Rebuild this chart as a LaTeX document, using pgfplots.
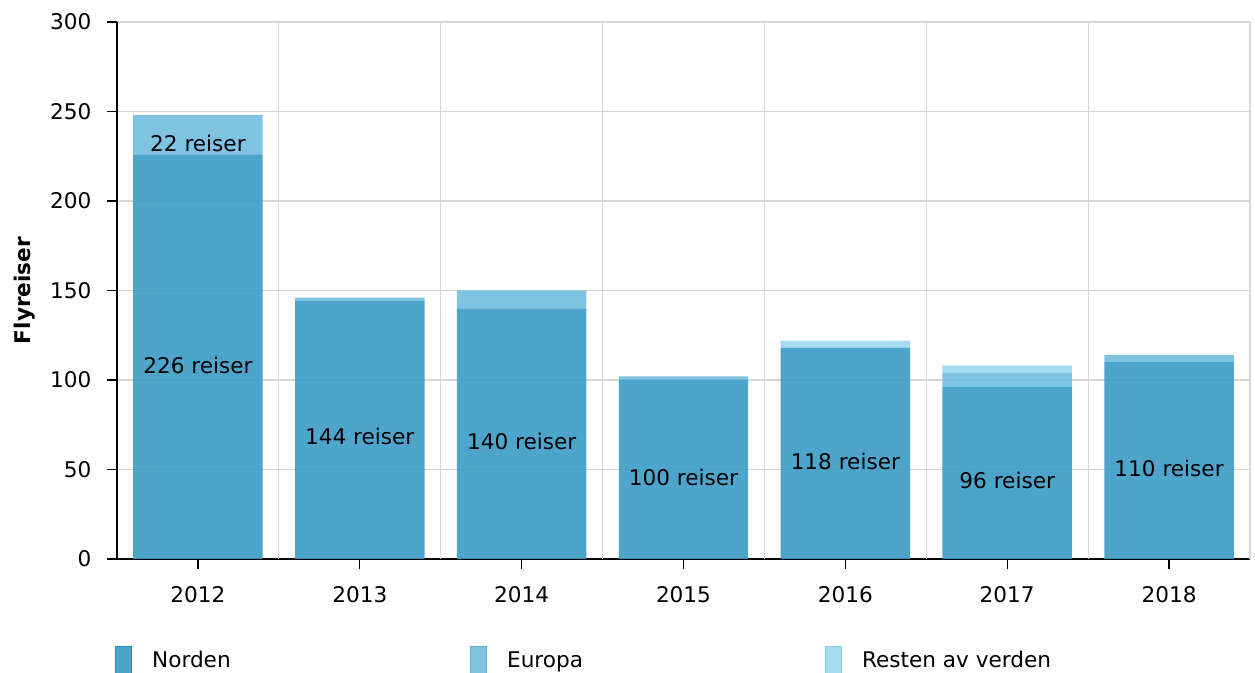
\documentclass[border=0pt]{standalone}
\usepackage{pgfplots}
\pgfplotsset{compat=1.18}
\usepackage{fontspec}
\setmainfont{DejaVu Sans}
\definecolor{norden}{RGB}{59,155,198}
\definecolor{europa}{RGB}{113,188,224}
\definecolor{resten}{RGB}{156,215,241}
\definecolor{nordenedge}{RGB}{40,135,185}
\definecolor{europaedge}{RGB}{95,175,215}
\definecolor{restenedge}{RGB}{135,205,235}
\definecolor{gridc}{RGB}{215,215,215}
\begin{document}
\fontsize{10.8}{13}\selectfont
\begin{tikzpicture}
\path[use as bounding box] (0,0) rectangle (627.5pt,336.5pt);
\begin{axis}[
  at={(58.5pt,57pt)}, anchor=south west,
  scale only axis, width=566.5pt, height=268.5pt,
  xmin=-0.5, xmax=6.5, ymin=0, ymax=300,
  ybar stacked, bar width=0.8,
  axis lines=left, axis line style={-, black, line width=0.8pt},
  xtick={0,1,2,3,4,5,6},
  xticklabels={2012,2013,2014,2015,2016,2017,2018},
  ytick={0,50,100,150,200,250,300},
  ymajorgrids, grid style={gridc, line width=0.6pt},
  extra x ticks={0.5,1.5,2.5,3.5,4.5,5.5,6.5},
  extra x tick labels={},
  extra x tick style={xmajorgrids=true, major tick length=0pt},
  tick align=outside, major tick length=5pt,
  tick style={black, line width=0.6pt},
  xticklabel style={yshift=-5pt},
  yticklabel style={xshift=-4pt},
  ylabel={\textbf{Flyreiser}},
  ylabel style={at={(axis description cs:-0.0812,0.5)}, anchor=center},
  /pgf/number format/assume math mode=true,
  tick label style={font=\fontsize{10.8}{13}\selectfont},
  legend columns=3,
  legend style={draw=none, fill=none, inner sep=0pt,
    at={(axis description cs:-0.002,-0.19)}, anchor=west,
    font=\fontsize{10.8}{13}\selectfont,
    /tikz/every odd column/.append style={column sep=8pt},
    /tikz/every even column/.append style={column sep=3pt}},
]
\addplot[fill=norden, draw=none, fill opacity=0.9,
  legend image code/.code={\draw[draw=nordenedge, fill=norden, fill opacity=0.9, line width=0.5pt] (0pt,-7.5pt) rectangle (8pt,7.5pt);}]
  coordinates {(0,226) (1,144) (2,140) (3,100) (4,118) (5,96) (6,110)};
\addlegendentry{\makebox[154pt][l]{Norden}}
\addplot[fill=europa, draw=none, fill opacity=0.9,
  legend image code/.code={\draw[draw=europaedge, fill=europa, fill opacity=0.9, line width=0.5pt] (0pt,-7.5pt) rectangle (8pt,7.5pt);}]
  coordinates {(0,22) (1,2) (2,10) (3,2) (4,0) (5,8) (6,4)};
\addlegendentry{\makebox[154pt][l]{Europa}}
\addplot[fill=resten, draw=none, fill opacity=0.9,
  legend image code/.code={\draw[draw=restenedge, fill=resten, fill opacity=0.9, line width=0.5pt] (0pt,-7.5pt) rectangle (8pt,7.5pt);}]
  coordinates {(0,0) (1,0) (2,0) (3,0) (4,4) (5,4) (6,0)};
\addlegendentry{Resten av verden}
\end{axis}
\begin{axis}[
  at={(58.5pt,57pt)}, anchor=south west,
  scale only axis, width=566.5pt, height=268.5pt,
  xmin=-0.5, xmax=6.5, ymin=0, ymax=300,
  hide axis, clip=false,
]
\addplot[only marks, mark=none, nodes near coords, point meta=explicit symbolic,
  every node near coord/.append style={anchor=center, font=\fontsize{10.8}{13}\selectfont, text=black}]
  coordinates {(0,108.4)[226 reiser] (1,68.2)[144 reiser] (2,65.9)[140 reiser]
    (3,45.8)[100 reiser] (4,54.7)[118 reiser] (5,43.6)[96 reiser]
    (6,50.8)[110 reiser] (0,232.4)[22 reiser]};
\end{axis}
\end{tikzpicture}
\end{document}
